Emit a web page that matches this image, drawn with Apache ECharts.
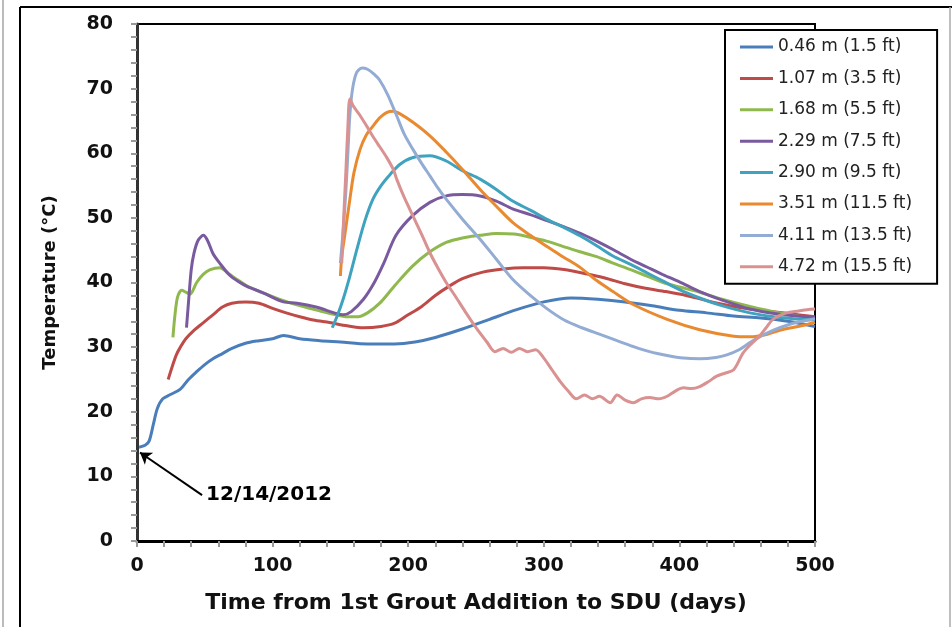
<!DOCTYPE html>
<html>
<head>
<meta charset="utf-8">
<script src="https://cdn.jsdelivr.net/npm/echarts@6/dist/echarts.min.js"></script>
<style>
  html, body { margin: 0; padding: 0; background: #fff; }
  #main { width: 952px; height: 627px; }
</style>
</head>
<body>
<div id="main"></div>
<script>
// depth labels shown in the legend
var seriesNames = ['0.46 m (1.5 ft)', '1.07 m (3.5 ft)', '1.68 m (5.5 ft)', '2.29 m (7.5 ft)',
	'2.90 m (9.5 ft)', '3.51 m (11.5 ft)', '4.11 m (13.5 ft)', '4.72 m (15.5 ft)'];
var seriesColors = ['#4a7ebb', '#be4b48', '#8fb84e', '#7a5a9f', '#3fa3bf', '#e98a30', '#93acd3', '#d99291'];

// [day, temperature degC]
var d046 = [[1.5,14.5],[6,14.8],[9,15.5],[12,18],[15,20.5],[19,22],[25,22.7],[32,23.5],[38,25],[44,26.2],[50,27.3],
	[56,28.2],[63,29],[70,29.8],[80,30.6],[90,31],[100,31.3],[108,31.8],[120,31.3],[135,31],[150,30.8],[170,30.5],
	[190,30.5],[205,30.8],[220,31.5],[240,32.8],[260,34.3],[280,35.8],[300,37],[320,37.6],[340,37.4],[360,37],
	[380,36.4],[400,35.7],[420,35.3],[440,34.8],[460,34.5],[480,34],[500,33.2]];
var d107 = [[23,25],[26,27],[29,28.8],[32,30],[36,31.3],[42,32.6],[49,33.8],[56,35],[63,36.2],[70,36.8],[80,37],
	[90,36.8],[100,36],[110,35.3],[120,34.7],[130,34.2],[142,33.8],[155,33.3],[167,33],[180,33.2],[190,33.7],
	[200,35],[210,36.3],[220,38],[230,39.4],[240,40.6],[255,41.6],[270,42.1],[285,42.3],[300,42.3],[315,42],
	[330,41.4],[345,40.7],[360,39.8],[375,39.1],[390,38.6],[405,38],[420,37.2],[440,36.3],[460,35.7],[480,35.2],[500,34.7]];
var d168 = [[26.5,31.5],[28,35],[30,37.8],[33,38.8],[36,38.5],[39,38.2],[44,40],[49,41.3],[54,42],[61,42.3],[68,41.3],
	[75,40.3],[81,39.5],[93,38.4],[108,37.2],[122,36.3],[135,35.6],[145,35.1],[155,34.7],[163,34.7],[170,35.3],
	[179,36.8],[190,39.5],[203,42.5],[215,44.6],[228,46.2],[240,46.9],[253,47.3],[265,47.6],[278,47.5],[290,47],
	[302,46.4],[314,45.6],[326,44.8],[339,44],[351,43],[364,42],[376,41],[388,40],[400,39.3],[415,38.5],[430,37.5],
	[452,36.3],[474,35.3],[500,34.4]];
var d229 = [[36.5,33],[38,37],[40,42],[42,44.5],[45,46.5],[49,47.3],[52,46.5],[56,44.5],[61,43],[68,41.2],[75,40.1],
	[81,39.4],[93,38.4],[108,37],[118,36.8],[132,36.2],[147,35.2],[152,35],[158,35.5],[167,37.4],[175,40],[182,43],
	[191,47.3],[203,50.3],[216,52.4],[228,53.4],[240,53.6],[253,53.4],[265,52.6],[277,51.4],[290,50.5],[302,49.6],
	[315,48.6],[327,47.6],[339,46.4],[351,45.1],[364,43.6],[376,42.4],[388,41.2],[400,40.1],[415,38.6],[430,37.4],
	[452,35.9],[474,35.1],[500,34.6]];
var d290 = [[144,33],[148,35],[152,37.4],[157,41],[162,45],[168,49.5],[174,52.9],[180,55],[187,56.8],[194,58.3],
	[203,59.3],[216,59.6],[228,58.8],[240,57.3],[253,56],[265,54.4],[277,52.6],[290,51.2],[302,49.8],[315,48.5],
	[327,47.2],[339,45.7],[351,44.1],[364,42.8],[376,41.5],[388,40.2],[400,38.9],[415,37.6],[430,36.5],[452,35.3],
	[474,34.6],[500,34.2]];
var d351 = [[150,41],[151,44],[153,47],[157,52.9],[160,57],[164.5,60.6],[169,62.8],[174,64.2],[179,65.5],[184,66.3],
	[189,66.5],[194,66.1],[203.5,64.8],[216,62.7],[228,60.2],[240,57.5],[253,54.4],[265,51.8],[277,49.3],[290,47.3],
	[302,45.6],[314,44],[327,42.3],[339,40.3],[351,38.6],[366,36.6],[391,34.3],[415,32.7],[440,31.7],[452,31.6],
	[465,32],[474,32.6],[490,33.3],[500,33.8]];
var d411 = [[150,43],[152,48],[154,54],[155.5,60],[157,66],[159,70],[162,72.5],[166,73.2],[170,73],[175,72.2],
	[179,71.3],[185,69],[191.5,65.8],[197,63],[203.5,60.6],[210,58.4],[216,56.5],[222,54.6],[228,52.9],[240,49.8],
	[253,46.7],[265,43.6],[277,40.5],[290,38],[302,36],[315,34.2],[328,33],[341,32],[354,31],[366,30.1],[378,29.3],
	[391,28.7],[403,28.3],[415,28.2],[427,28.4],[435,28.8],[444,29.6],[452,30.7],[463,32],[474,33],[486,33.8],[500,34.4]];
var d472 = [[151,43],[152,48],[154,57],[155.5,64],[157,68.4],[159.5,67.3],[164,66],[169.4,64.2],[174,62.6],[179,61],
	[184,59.4],[189,57.5],[191.5,56],[197,53.2],[203.5,50.3],[210,47.4],[216,44.6],[222,42.2],[228,40],[235,37.8],
	[242,35.5],[250,33],[258,30.8],[264,29.3],[270,29.8],[276,29.2],[282,29.8],[288,29.3],[294,29.6],[300,28.3],
	[306,26.5],[312,24.7],[318,23.2],[324,22],[330,22.6],[336,22],[341,22.4],[349,21.4],[354,22.6],[360,21.8],
	[366,21.4],[372,22],[378,22.2],[385,22],[391,22.4],[397,23.2],[403,23.7],[409,23.6],[415,23.9],[421,24.6],
	[427.5,25.5],[434,26],[440,26.5],[447,29.1],[453,30.5],[459,31.7],[464,33],[469,34.3],[479,35.3],[488,35.6],
	[494,35.8],[500,35.9]];
var allData = [d046, d107, d168, d229, d290, d351, d411, d472];

// annotation arrow: from text to first reading
var arrowFrom = [48, 7.1];
var arrowTo = [2.2, 13.7];
var arrowText = '12/14/2012';

var boldFont = 'DejaVu Sans';

var myChart = echarts.init(document.getElementById('main'));

var series = allData.map(function(d, i) {
	var s = {
		name: seriesNames[i],
		type: 'line',
		data: d,
		symbol: 'none',
		smooth: 0.3,
		color: seriesColors[i],
		lineStyle: { width: 3, color: seriesColors[i] },
		z: 2 + i
	};
	if (i === 0) {
		s.markLine = {
			silent: true,
			symbol: ['none', 'arrow'],
			symbolSize: 11,
			label: { show: false },
			lineStyle: { color: '#000', width: 2, type: 'solid' },
			data: [[{ coord: arrowFrom }, { coord: arrowTo }]]
		};
		s.markPoint = {
			silent: true,
			symbol: 'circle',
			symbolSize: 0,
			label: {
				show: true,
				position: 'right',
				distance: 4,
				formatter: arrowText,
				color: '#000',
				fontFamily: boldFont,
				fontWeight: 'bold',
				fontSize: 20
			},
			data: [{ coord: arrowFrom }]
		};
	}
	return s;
});

var option = {
	backgroundColor: '#fff',
	animation: false,
	graphic: [{
		type: 'line',
		shape: { x1: 3, y1: 0, x2: 3, y2: 627 },
		style: { stroke: '#bbb', lineWidth: 2 }
	}, {
		type: 'line',
		shape: { x1: 20, y1: 7, x2: 952, y2: 7 },
		style: { stroke: '#000', lineWidth: 2 }
	}, {
		type: 'line',
		shape: { x1: 20, y1: 7, x2: 20, y2: 627 },
		style: { stroke: '#000', lineWidth: 2 }
	}, {
		type: 'line',
		shape: { x1: 950, y1: 7, x2: 950, y2: 627 },
		style: { stroke: '#aaa', lineWidth: 1.5 }
	}],
	grid: {
		left: 137,
		right: 137,
		top: 24,
		bottom: 86,
		show: true,
		borderColor: '#000',
		borderWidth: 2
	},
	legend: {
		orient: 'vertical',
		left: 725,
		top: 30,
		padding: [8, 25, 8, 15],
		icon: 'rect',
		itemWidth: 33,
		itemHeight: 3,
		itemGap: 13.4,
		borderColor: '#000',
		borderWidth: 2,
		backgroundColor: '#fff',
		data: seriesNames,
		textStyle: {
			fontFamily: 'DejaVu Sans',
			fontSize: 17,
			lineHeight: 18,
			color: '#222'
		}
	},
	xAxis: {
		type: 'value',
		min: 0,
		max: 500,
		interval: 20,
		name: 'Time from 1st Grout Addition to SDU (days)',
		nameLocation: 'middle',
		nameGap: 51,
		nameTextStyle: { fontFamily: boldFont, fontWeight: 'bold', fontSize: 22, color: '#111' },
		axisLine: { lineStyle: { color: '#000', width: 3 } },
		axisTick: { length: 6, lineStyle: { color: '#999', width: 2 } },
		axisLabel: {
			margin: 16,
			fontFamily: boldFont,
			fontWeight: 'bold',
			fontSize: 19,
			color: '#111',
			formatter: function(v) { return v % 100 === 0 ? v : ''; }
		},
		splitLine: { show: false }
	},
	yAxis: {
		type: 'value',
		min: 0,
		max: 80,
		interval: 2,
		name: 'Temperature (°C)',
		nameLocation: 'middle',
		nameGap: 78,
		nameTextStyle: { fontFamily: boldFont, fontWeight: 'bold', fontSize: 18, color: '#111' },
		axisLine: { lineStyle: { color: '#333', width: 3 } },
		axisTick: { length: 6, lineStyle: { color: '#999', width: 2 } },
		axisLabel: {
			margin: 24,
			fontFamily: boldFont,
			fontWeight: 'bold',
			fontSize: 19,
			color: '#111',
			formatter: function(v) { return v % 10 === 0 ? v : ''; }
		},
		splitLine: { show: false }
	},
	series: series
};
myChart.setOption(option);
</script>
</body>
</html>
